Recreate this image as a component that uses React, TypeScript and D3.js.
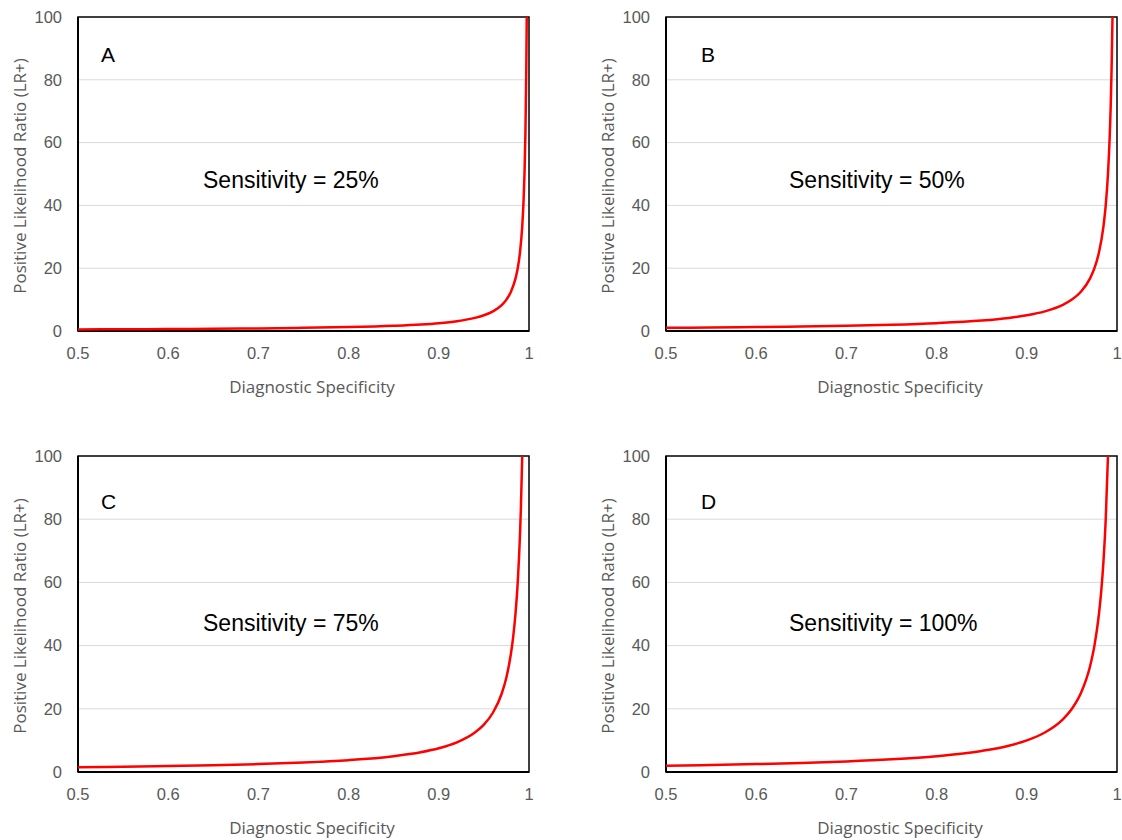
import React from "react";
import * as d3 from "d3";

// ---- Data ----
const panelLetters = ["A", "B", "C", "D"];
const sensitivityLabels = ["25%", "50%", "75%", "100%"];
const xTicks = [0.5, 0.6, 0.7, 0.8, 0.9, 1];
const yTicks = [0, 20, 40, 60, 80, 100];

const specA = [0.5, 0.55, 0.6, 0.65, 0.7, 0.75, 0.8, 0.85, 0.88, 0.9, 0.92, 0.94, 0.95, 0.96, 0.97, 0.975, 0.98, 0.985, 0.9875, 0.99, 0.9925, 0.994, 0.995, 0.996, 0.997, 0.9975];
const lrA = [0.5, 0.56, 0.63, 0.71, 0.83, 1.0, 1.25, 1.67, 2.08, 2.5, 3.13, 4.17, 5.0, 6.25, 8.33, 10, 12.5, 16.67, 20, 25, 33.33, 41.67, 50, 62.5, 83.33, 100];

const specB = [0.5, 0.55, 0.6, 0.65, 0.7, 0.75, 0.8, 0.85, 0.88, 0.9, 0.92, 0.94, 0.95, 0.96, 0.97, 0.975, 0.98, 0.985, 0.9875, 0.99, 0.992, 0.993, 0.994, 0.995];
const lrB = [1.0, 1.11, 1.25, 1.43, 1.67, 2.0, 2.5, 3.33, 4.17, 5.0, 6.25, 8.33, 10, 12.5, 16.67, 20, 25, 33.33, 40, 50, 62.5, 71.43, 83.33, 100];

const specC = [0.5, 0.55, 0.6, 0.65, 0.7, 0.75, 0.8, 0.85, 0.88, 0.9, 0.92, 0.94, 0.95, 0.96, 0.97, 0.975, 0.98, 0.9825, 0.985, 0.9875, 0.99, 0.991, 0.9925];
const lrC = [1.5, 1.67, 1.88, 2.14, 2.5, 3.0, 3.75, 5.0, 6.25, 7.5, 9.38, 12.5, 15, 18.75, 25, 30, 37.5, 42.86, 50, 60, 75, 83.33, 100];

const specD = [0.5, 0.55, 0.6, 0.65, 0.7, 0.75, 0.8, 0.85, 0.88, 0.9, 0.92, 0.94, 0.95, 0.96, 0.97, 0.975, 0.98, 0.9825, 0.985, 0.9875, 0.99];
const lrD = [2.0, 2.22, 2.5, 2.86, 3.33, 4.0, 5.0, 6.67, 8.33, 10, 12.5, 16.67, 20, 25, 33.33, 40, 50, 57.14, 66.67, 80, 100];

const seriesSpec = [specA, specB, specC, specD];
const seriesLR = [lrA, lrB, lrC, lrD];

// ---- Layout ----
const layout = [
  { x0: 78, x1: 529, y0: 17, y1: 331, letterX: 101, letterY: 62, sensX: 203, sensY: 188 },
  { x0: 666, x1: 1117, y0: 17, y1: 331, letterX: 701, letterY: 62, sensX: 789, sensY: 188 },
  { x0: 78, x1: 529, y0: 456, y1: 772, letterX: 101, letterY: 509, sensX: 203, sensY: 631 },
  { x0: 666, x1: 1117, y0: 456, y1: 772, letterX: 701, letterY: 509, sensX: 789, sensY: 631 },
];

const tickFont = "'Liberation Sans', Arial, sans-serif";
const titleFont = "'Open Sans', 'Noto Sans', sans-serif";

function Panel({ i }: { i: number }) {
  const L = layout[i];
  const x = d3.scaleLinear().domain([0.5, 1]).range([L.x0, L.x1]);
  const y = d3.scaleLinear().domain([0, 100]).range([L.y1, L.y0]);
  const pts: [number, number][] = seriesSpec[i].map((s, k) => [s, seriesLR[i][k]]);
  const line = d3
    .line<[number, number]>()
    .x((d) => x(d[0]))
    .y((d) => y(d[1]))
    .curve(d3.curveMonotoneX);
  const midY = (L.y0 + L.y1) / 2;
  const midX = (L.x0 + L.x1) / 2;
  return (
    <g>
      {yTicks
        .filter((t) => t > 0 && t < 100)
        .map((t) => (
          <line key={t} x1={L.x0} x2={L.x1} y1={y(t)} y2={y(t)} stroke="#d9d9d9" strokeWidth={1} />
        ))}
      <rect x={L.x0} y={L.y0} width={L.x1 - L.x0} height={L.y1 - L.y0} fill="none" stroke="#000" strokeWidth={1.5} />
      <line x1={L.x0} x2={L.x0} y1={L.y0} y2={L.y1} stroke="#000" strokeWidth={2} />
      <line x1={L.x0} x2={L.x1} y1={L.y1} y2={L.y1} stroke="#000" strokeWidth={2} />
      <path d={line(pts) || ""} fill="none" stroke="#ff0000" strokeWidth={2.5} />
      {yTicks.map((t) => (
        <text key={t} x={L.x0 - 16} y={y(t)} dy="0.35em" textAnchor="end" fontFamily={tickFont} fontSize={16.5} fill="#595959">
          {t}
        </text>
      ))}
      {xTicks.map((t) => (
        <text key={t} x={x(t)} y={L.y1 + 28} textAnchor="middle" fontFamily={tickFont} fontSize={16.5} fill="#595959">
          {t}
        </text>
      ))}
      <text x={midX + 8.5} y={L.y1 + 62} textAnchor="middle" fontFamily={titleFont} fontSize={17} fill="#595959">
        Diagnostic Specificity
      </text>
      <text
        transform={`translate(${L.x0 - 52},${midY + 2}) rotate(-90)`}
        textAnchor="middle"
        fontFamily={titleFont}
        fontSize={17}
        fill="#595959"
      >
        Positive Likelihood Ratio (LR+)
      </text>
      <text x={L.letterX} y={L.letterY} fontFamily={tickFont} fontSize={21} fill="#000">
        {panelLetters[i]}
      </text>
      <text x={L.sensX} y={L.sensY} fontFamily={tickFont} fontSize={23} fill="#000">
        {"Sensitivity = " + sensitivityLabels[i]}
      </text>
    </g>
  );
}

export default function App() {
  return (
    <svg width={1122} height={840} style={{ position: "absolute", left: 0, top: 0, background: "#fff" }}>
      <rect width={1122} height={840} fill="#fff" />
      {[0, 1, 2, 3].map((i) => (
        <Panel key={i} i={i} />
      ))}
    </svg>
  );
}
